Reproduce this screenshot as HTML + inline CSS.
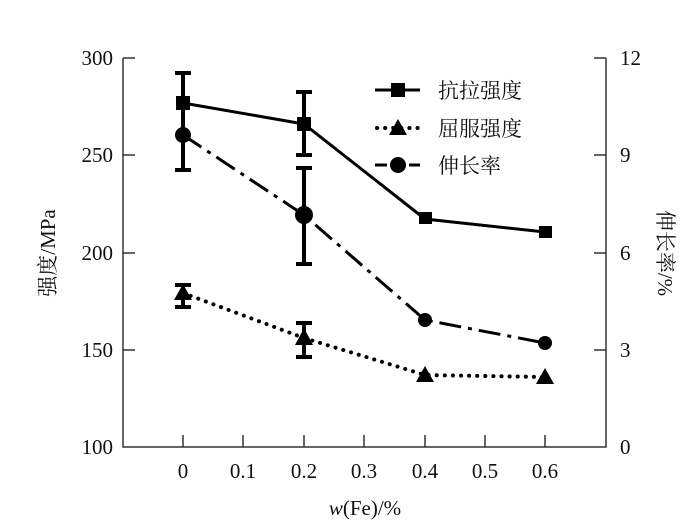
<!DOCTYPE html><html><head><meta charset="utf-8"><style>body{margin:0;background:#fff}svg text{font-family:"Liberation Serif","Noto Serif CJK SC",serif;fill:#111}</style></head><body>
<svg width="680" height="523" viewBox="0 0 680 523" xmlns="http://www.w3.org/2000/svg">
<g stroke="#333" stroke-width="1.5" fill="none">
<path d="M123 58V447H606V58"/>
<path d="M123 58h12M123 155h12M123 253h12M123 350h12"/>
<path d="M606 58h-12M606 155h-12M606 253h-12M606 350h-12"/>
<path d="M183 447v-12M243 447v-12M304 447v-12M364 447v-12M425 447v-12M485 447v-12M545 447v-12"/>
</g>
<g font-size="21" text-anchor="end"><text x="113" y="65">300</text><text x="113" y="162">250</text><text x="113" y="260">200</text><text x="113" y="357">150</text><text x="113" y="454">100</text></g>
<g font-size="21"><text x="620" y="65">12</text><text x="620" y="162">9</text><text x="620" y="260">6</text><text x="620" y="357">3</text><text x="620" y="454">0</text></g>
<g font-size="21" text-anchor="middle"><text x="183" y="478">0</text><text x="243" y="478">0.1</text><text x="304" y="478">0.2</text><text x="364" y="478">0.3</text><text x="425" y="478">0.4</text><text x="485" y="478">0.5</text><text x="545" y="478">0.6</text>
<text x="365" y="515"><tspan font-style="italic">w</tspan>(Fe)/%</text></g>
<text font-size="21" transform="translate(55 253) rotate(-90)" text-anchor="middle">强度/MPa</text>
<text font-size="21" transform="translate(658 253) rotate(90)" text-anchor="middle">伸长率/%</text>
<g stroke="#000" stroke-width="4" fill="none">
<path d="M183 73V170M175 73h16M175 170h16M304 92V155M296 92h16M296 155h16M304 168V264M296 168h16M296 264h16M183 285V307M175 285h16M175 307h16M304 323V357M296 323h16M296 357h16"/>
</g>
<g stroke="#000" stroke-width="3" fill="none">
<path d="M183 103L304 124L425 219L545 232"/>
<path d="M183 135L304 215L425 320L545 343" stroke-dasharray="22 7 4 7"/>
<path d="M183 293L304 338L425 375L545 377" stroke-width="4" stroke-dasharray="0.1 8" stroke-linecap="round"/>
</g>
<g stroke="#000" stroke-width="3" fill="none"><path d="M375 90h45"/><path d="M375 165h12M409 165h11"/><path d="M377 128h42" stroke-width="4" stroke-dasharray="0.1 8" stroke-linecap="round"/></g>
<g fill="#000">
<rect x="176" y="96" width="14" height="14"/><rect x="297" y="117" width="14" height="14"/><rect x="419" y="212" width="13" height="12"/><rect x="539" y="226" width="13" height="12"/>
<circle cx="183" cy="135" r="8"/><circle cx="304" cy="215" r="9"/><circle cx="425" cy="320" r="7"/><circle cx="545" cy="343" r="7"/>
<path d="M183 284l9 16h-18z"/><path d="M304 328l9 17h-18z"/><path d="M425 366l9 16h-18z"/><path d="M545 368l9 16h-18z"/>
<rect x="391" y="83" width="14" height="14"/><path d="M398 119l9 16h-18z"/><circle cx="398" cy="165" r="8"/>
</g>
<g font-size="21"><text x="438" y="98">抗拉强度</text><text x="438" y="136">屈服强度</text><text x="438" y="173">伸长率</text></g>
</svg></body></html>
